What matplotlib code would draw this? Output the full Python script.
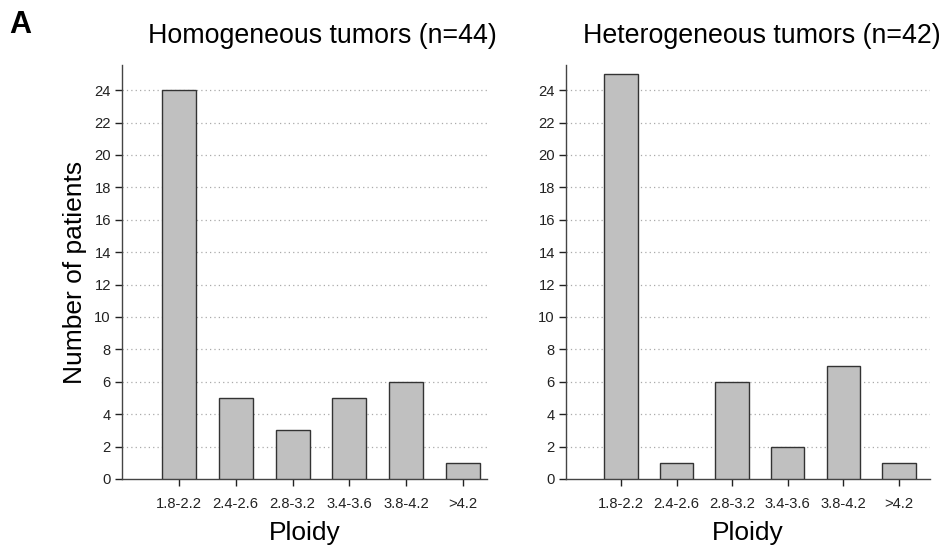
import matplotlib
matplotlib.use('Agg')
import matplotlib.pyplot as plt
import numpy as np

plt.rcParams['font.family'] = ['Liberation Sans', 'DejaVu Sans']

ploidy = ['1.8-2.2', '2.4-2.6', '2.8-3.2', '3.4-3.6', '3.8-4.2', '>4.2']
homog = [24, 5, 3, 5, 6, 1]
heterog = [25, 1, 6, 2, 7, 1]
yticks = np.arange(0, 25, 2)

fig = plt.figure(figsize=(9.44, 5.47), dpi=100)

W, H = 944.0, 547.0
# axes boxes in pixels (left, right)
ax1 = fig.add_axes([122/W, 1-479/H, (487-122)/W, (479-65)/H])
ax2 = fig.add_axes([566/W, 1-479/H, (930-566)/W, (479-65)/H])


def draw(ax, vals, xlim):
    x = np.arange(len(ploidy))
    ax.bar(x, vals, width=0.6, color='#c0c0c0', edgecolor='#333333',
           linewidth=1.0, zorder=3)
    ax.set_xlim(*xlim)
    ax.set_ylim(0, 25.55)
    ax.set_yticks(yticks)
    ax.set_xticks(x)
    ax.set_xticklabels(ploidy)
    for yv in yticks[1:]:
        ax.axhline(yv, color='#aaaaaa', linestyle=(0, (1, 2.5)), linewidth=0.9, zorder=1)
    for s in ['top', 'right']:
        ax.spines[s].set_visible(False)
    for s in ['left', 'bottom']:
        ax.spines[s].set_color('#444444')
        ax.spines[s].set_linewidth(1.0)
    ax.tick_params(axis='both', labelsize=10.6, colors='#222222', length=5,
                   width=1.0, direction='out', pad=3)
    ax.tick_params(axis='x', pad=8)
    ax.set_xlabel('Ploidy', fontsize=19, labelpad=7)


draw(ax1, homog, (-1.0, 5.42))
draw(ax2, heterog, (-0.99, 5.56))

ax1.set_ylabel('Number of patients', fontsize=19, labelpad=5)

fig.text(322/W, 1-43/H, 'Homogeneous tumors (n=44)', fontsize=19.3,
         ha='center', va='baseline')
fig.text(762/W, 1-43/H, 'Heterogeneous tumors (n=42)', fontsize=19.3,
         ha='center', va='baseline')
fig.text(9/W, 1-33/H, 'A', fontsize=22, fontweight='bold',
         ha='left', va='baseline')

fig.savefig('out.png', dpi=100)
